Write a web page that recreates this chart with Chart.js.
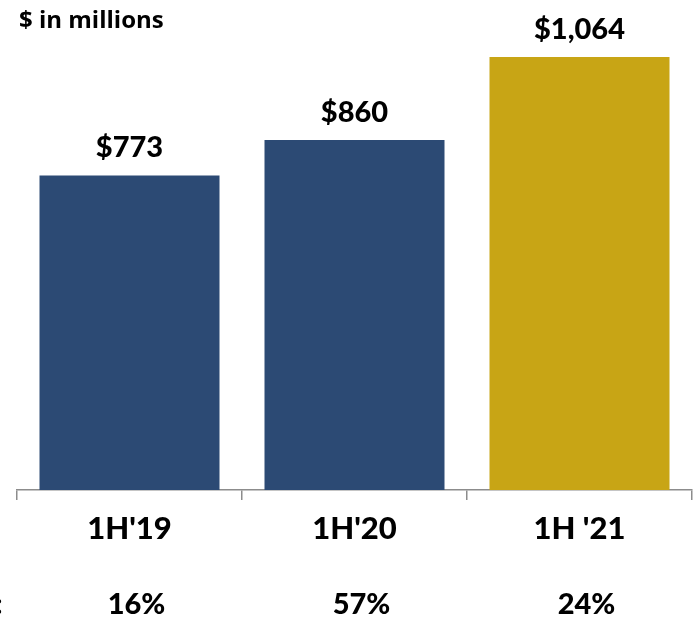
<!DOCTYPE html>
<html>
<head>
<meta charset="utf-8">
<script src="https://cdn.jsdelivr.net/npm/chart.js@4"></script>
<style>
  html, body { margin: 0; padding: 0; background: #fff; }
  #wrap { width: 695px; height: 618px; position: relative; }
</style>
</head>
<body>
<div id="wrap"><canvas id="chart" width="695" height="618"></canvas></div>
<script>
const categories = ["1H'19", "1H'20", "1H '21"];
const values = [773, 860, 1064];
const valueLabels = ["$773", "$860", "$1,064"];
const growthLabels = ["16%", "57%", "24%"];
const barColors = ["#2C4A74", "#2C4A74", "#C8A515"];

// value labels above the bars + growth row under the axis
const extraText = {
  id: "extraText",
  afterDatasetsDraw(chart) {
    const ctx = chart.ctx;
    const meta = chart.getDatasetMeta(0);
    const xScale = chart.scales.x;
    ctx.save();
    ctx.fillStyle = "#000";
    ctx.textAlign = "center";
    ctx.textBaseline = "alphabetic";
    ctx.font = "900 29px Lato";
    meta.data.forEach((bar, i) => {
      ctx.fillText(valueLabels[i], bar.x, bar.y - 18);
    });

    growthLabels.forEach((txt, i) => {
      ctx.fillText(txt, xScale.getPixelForValue(i) + 7, 614);
    });

    // cut-off row label on the left edge
    ctx.textAlign = "left";
    ctx.fillText(":", -5, 614);

    ctx.font = "bold 24px 'Open Sans'";
    ctx.fillText("$ in millions", 19, 28);
    ctx.restore();
  },
};

new Chart(document.getElementById("chart"), {
  type: "bar",
  data: {
    labels: categories,
    datasets: [
      {
        data: values,
        backgroundColor: barColors,
        borderWidth: 0,
        categoryPercentage: 1,
        barPercentage: 0.8,
      },
    ],
  },
  options: {
    responsive: false,
    animation: false,
    layout: {
      padding: { left: 17, right: 3, top: 0, bottom: 0 },
    },
    scales: {
      x: {
        grid: {
          display: true,
          drawOnChartArea: false,
          tickLength: 10,
          color: "#8c8c8c",
          lineWidth: 1.5,
        },
        border: { display: true, color: "#8c8c8c", width: 1.5 },
        ticks: {
          color: "#000",
          padding: 10,
          font: { family: "Lato", size: 31, weight: "900" },
        },
        afterFit: (scale) => {
          scale.height = 128;
        },
      },
      y: {
        display: false,
        min: 0,
        max: 1204,
      },
    },
    plugins: {
      legend: { display: false },
      tooltip: { enabled: false },
    },
  },
  plugins: [extraText],
});
</script>
</body>
</html>
